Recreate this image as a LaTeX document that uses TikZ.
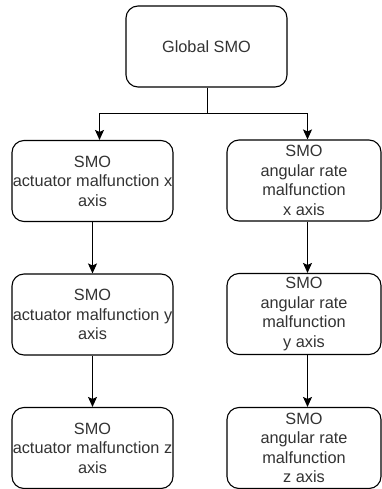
\documentclass[tikz,border=0pt]{standalone}
\usepackage{fontspec}
\setmainfont{Liberation Sans}
\usetikzlibrary{arrows.meta,positioning,calc}
\definecolor{txt}{HTML}{333333}
\tikzset{
  box/.style={draw=black, line width=1.1pt, rounded corners=12pt, fill=white,
    minimum width=161pt, minimum height=81pt, inner sep=0pt, align=center,
    text=txt, font=\fontsize{16.3}{19.5}\selectfont},
  rbox/.style={box, minimum width=154pt},
  arr/.style={draw=black, line width=1.1pt, -{Stealth[length=10pt,width=9pt,inset=2pt]}}
}
\begin{document}
\begin{tikzpicture}[x=1pt,y=-1pt]
\useasboundingbox (0,0) rectangle (382,489);
\node[box] (top) at (206.5,46.5) {Global SMO};
\node[box] (L1) at (92.5,181) {SMO\\actuator malfunction x\\axis};
\node[rbox] (R1) at (304,180.5) {SMO\\angular rate\\malfunction\\x axis};
\node[box] (L2) at (92.5,314.5) {SMO\\actuator malfunction y\\axis};
\node[rbox] (R2) at (304,314) {SMO\\angular rate\\malfunction\\y axis};
\node[box] (L3) at (92.5,448) {SMO\\actuator malfunction z\\axis};
\node[rbox] (R3) at (304,448) {SMO\\angular rate\\malfunction\\z axis};
\coordinate (split) at (207.5,113.5);
\draw[line width=1.1pt] ([xshift=1pt]top.south) -- (split);
\draw[arr] (split) -| ([xshift=7pt]L1.north);
\draw[arr] (split) -| ([xshift=3.5pt]R1.north);
\draw[arr] (L1) -- (L2);
\draw[arr] (L2) -- (L3);
\draw[arr] ([xshift=3.5pt]R1.south) -- ([xshift=3.5pt]R2.north);
\draw[arr] ([xshift=3.5pt]R2.south) -- ([xshift=3.5pt]R3.north);
\end{tikzpicture}
\end{document}
